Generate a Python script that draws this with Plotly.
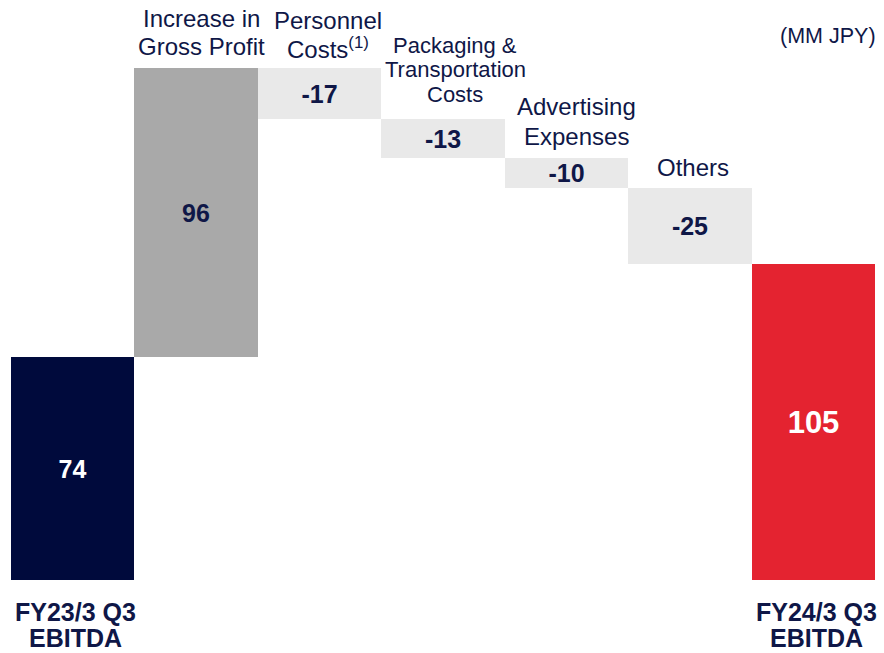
import plotly.graph_objects as go

# EBITDA bridge, FY23/3 Q3 -> FY24/3 Q3 (MM JPY)
categories = ["FY23/3 Q3 EBITDA", "Increase in Gross Profit", "Personnel Costs",
              "Packaging & Transportation Costs", "Advertising Expenses", "Others",
              "FY24/3 Q3 EBITDA"]
values = [74, 96, -17, -13, -10, -25, 105]
value_labels = ["74", "96", "-17", "-13", "-10", "-25", "105"]
kinds = ["total", "delta", "delta", "delta", "delta", "delta", "total"]

# label lines drawn above the step bars / below the total bars
top_label_lines = {
    1: ["Increase in", "Gross Profit"],
    2: ["Personnel", "Costs<sup>(1)</sup>"],
    3: ["Packaging &", "Transportation", "Costs"],
    4: ["Advertising", "Expenses"],
    5: ["Others"],
}
bottom_label_lines = {
    0: ["FY23/3 Q3", "EBITDA"],
    6: ["FY24/3 Q3", "EBITDA"],
}

NAVY = "#000a3c"
TEXT = "#0f1747"
FONT = "Liberation Sans, Arial, sans-serif"

bar_colors = [NAVY, "#a9a9a9", "#e9e9e9", "#e9e9e9", "#e9e9e9", "#e9e9e9", "#e42330"]
text_colors = ["white", TEXT, TEXT, TEXT, TEXT, TEXT, "white"]
text_sizes = [25, 25, 25, 25, 25, 25, 31]
label_sizes = {1: 24, 2: 24, 3: 22, 4: 24, 5: 24}
label_xshift = {1: 5, 2: 8, 3: 12, 4: 10, 5: 3}
line_gap = {1: 28, 2: 27, 3: 24.5, 4: 30, 5: 0}
first_gap = {1: 21, 2: 20, 3: 25, 4: 22, 5: 21}

# running totals -> bar bases and heights
bases, heights, tops = [], [], []
running = 0
for v, k in zip(values, kinds):
    if k == "total":
        bases.append(0)
        heights.append(v)
        running = v
    else:
        new = running + v
        bases.append(min(running, new))
        heights.append(abs(v))
        running = new
    tops.append(bases[-1] + heights[-1])

xs = list(range(len(categories)))

fig = go.Figure()
fig.add_trace(go.Bar(
    x=xs, y=heights, base=bases, width=1.0,
    marker=dict(color=bar_colors, line=dict(width=0)),
    text=value_labels, textposition="inside", insidetextanchor="middle",
    constraintext="none",
    textfont=dict(family=FONT, size=text_sizes, color=text_colors, weight="bold"),
    hovertext=categories, hoverinfo="text",
))

annotations = []
for i, lines in top_label_lines.items():
    n = len(lines)
    for j, line in enumerate(lines):
        shift = first_gap[i] + (n - 1 - j) * line_gap[i]
        annotations.append(dict(
            x=xs[i], y=tops[i], xref="x", yref="y", text=line, showarrow=False,
            xanchor="center", yanchor="middle", yshift=shift,
            xshift=label_xshift[i],
            font=dict(family=FONT, size=label_sizes[i], color=TEXT),
        ))
for i, lines in bottom_label_lines.items():
    for j, line in enumerate(lines):
        annotations.append(dict(
            x=xs[i], y=0, xref="x", yref="y", text=line, showarrow=False,
            xanchor="center", yanchor="middle", yshift=-32 - j * 26, xshift=3,
            font=dict(family=FONT, size=25, color=TEXT, weight="bold"),
        ))
annotations.append(dict(
    x=1, y=1, xref="paper", yref="paper", text="(MM JPY)", showarrow=False,
    xanchor="right", yanchor="middle", yshift=-36, xshift=3,
    font=dict(family=FONT, size=21.5, color=TEXT),
))

fig.update_layout(
    width=884, height=653,
    margin=dict(l=11, r=9, t=0, b=73),
    paper_bgcolor="white", plot_bgcolor="white",
    showlegend=False, bargap=0,
    xaxis=dict(range=[-0.5, 6.5], visible=False, fixedrange=True),
    yaxis=dict(range=[0, 192.5], visible=False, fixedrange=True),
    annotations=annotations,
)

fig.write_html("out.html")
